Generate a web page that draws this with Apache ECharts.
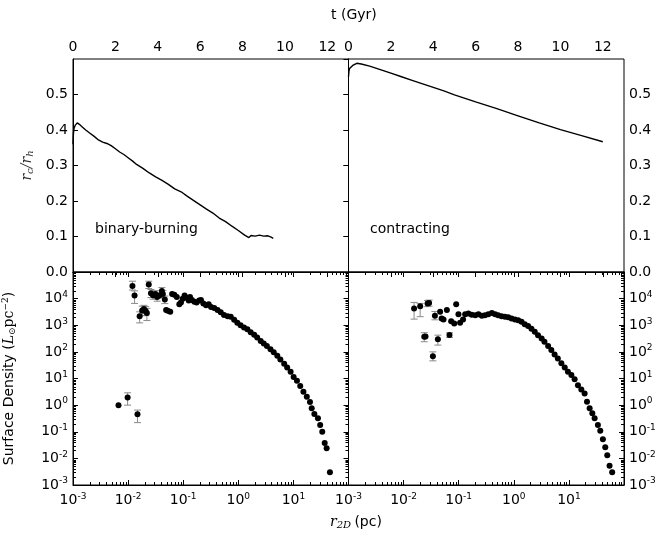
<!DOCTYPE html>
<html>
<head>
<meta charset="utf-8">
<script src="https://cdn.jsdelivr.net/npm/echarts@6/dist/echarts.min.js"></script>
<style>
  html, body { margin: 0; background: #fff; }
  #chart { width: 664px; height: 539px; }
</style>
</head>
<body>
<div id="chart"></div>
<script>
// r_c / r_h against time, binary-burning run
const tBinary = [0.0, 0.02, 0.05, 0.1, 0.2, 0.3, 0.45, 0.6, 0.8, 1.0, 1.2, 1.4, 1.6, 1.8, 2.0, 2.2, 2.4, 2.6, 2.8, 3.0,
  3.3, 3.6, 3.9, 4.2, 4.5, 4.8, 5.1, 5.4, 5.7, 6.0, 6.3, 6.6, 6.9, 7.2, 7.5, 7.8, 8.1, 8.3, 8.4, 8.6, 8.8, 9.0, 9.2, 9.35, 9.45]
const rcBinary = [0.36, 0.39, 0.405, 0.413, 0.42, 0.416, 0.408, 0.400, 0.391, 0.382, 0.372, 0.366, 0.362, 0.356, 0.347, 0.338,
  0.331, 0.322, 0.313, 0.303, 0.292, 0.279, 0.268, 0.258, 0.247, 0.234, 0.226, 0.213, 0.201, 0.189, 0.177, 0.166, 0.152,
  0.142, 0.129, 0.117, 0.104, 0.097, 0.103, 0.101, 0.104, 0.101, 0.102, 0.098, 0.095]

// r_c / r_h against time, contracting run
const tContract = [0.0, 0.02, 0.05, 0.1, 0.2, 0.39, 0.6, 1.0, 1.5, 2.0, 2.5, 3.0, 3.5, 4.0, 4.5, 5.0, 5.5, 6.0, 7.0, 8.0, 9.0, 10.0, 11.0, 12.0]
const rcContract = [0.55, 0.565, 0.573, 0.578, 0.582, 0.588, 0.586, 0.580, 0.570, 0.560, 0.550, 0.540, 0.530, 0.520, 0.510,
  0.499, 0.489, 0.479, 0.460, 0.440, 0.420, 0.401, 0.384, 0.367]

// surface density profile, binary-burning
const rBinary = [0.0067, 0.0098, 0.012, 0.0131, 0.0148, 0.0162, 0.018, 0.0194, 0.0208, 0.0219, 0.0237, 0.026, 0.0284, 0.0314,
  0.0337, 0.037, 0.041, 0.0427, 0.0464, 0.049, 0.0525, 0.0582, 0.0629, 0.069, 0.0765, 0.085, 0.091, 0.098, 0.106, 0.115,
  0.126, 0.133, 0.144, 0.159, 0.175, 0.195, 0.21, 0.232, 0.26, 0.29, 0.32, 0.366, 0.42, 0.48, 0.55, 0.64, 0.73, 0.84, 0.96,
  1.1, 1.27, 1.46, 1.68, 1.94, 2.2, 2.55, 2.9, 3.3, 3.84, 4.4, 5.1, 5.8, 6.8, 7.7, 8.9, 10.1, 11.6, 13.3, 15.2, 17.5, 20,
  21.5, 24, 27.9, 30.6, 33.4, 37, 40.1, 46]
const sdBinary = [1.0, 1.95, 30000, 13000, 0.45, 2200, 3600, 4100, 3400, 2900, 34000, 16000, 13500, 15000, 11500, 13000,
  19500, 15000, 9300, 3700, 3500, 3200, 15000, 14000, 11500, 6100, 7200, 10000, 13000, 10700, 8500, 11500, 8800, 7700,
  7100, 8500, 8800, 6600, 5600, 6100, 4800, 4400, 3700, 3100, 2440, 2200, 2100, 1600, 1250, 1000, 830, 700, 550, 440, 350,
  255, 205, 165, 126, 97, 72, 52, 36, 26, 18, 11.5, 8.2, 5.2, 3.2, 2.05, 1.3, 0.76, 0.46, 0.32, 0.178, 0.1, 0.038, 0.024, 0.003]
const rBinaryErr = [0.0098, 0.0148, 0.012, 0.0131, 0.0162, 0.018, 0.0194, 0.0208, 0.0219, 0.0237, 0.026, 0.0284, 0.0314,
  0.0337, 0.041, 0.0427, 0.0464]
const loBinaryErr = [1.0, 0.22, 21000, 6600, 1230, 2300, 2700, 2300, 1500, 24000, 11000, 9500, 10500, 8000, 14000, 10500, 6500]
const hiBinaryErr = [2.9, 0.65, 45000, 19500, 3200, 5200, 5600, 5000, 4300, 45000, 22000, 18000, 20000, 16000, 26000, 20000, 12500]

// surface density profile, contracting
const rContract = [0.0155, 0.020, 0.0237, 0.025, 0.0272, 0.029, 0.034, 0.037, 0.0419, 0.046, 0.049, 0.053, 0.061, 0.068,
  0.073, 0.083, 0.090, 0.099, 0.106, 0.12, 0.131, 0.15, 0.172, 0.2, 0.228, 0.263, 0.30, 0.345, 0.40, 0.457, 0.52, 0.60,
  0.69, 0.79, 0.91, 1.05, 1.2, 1.38, 1.58, 1.82, 2.09, 2.4, 2.75, 3.2, 3.6, 4.2, 4.8, 5.5, 6.3, 7.3, 8.4, 9.6, 11.1, 12.7,
  14.6, 16.8, 19.3, 21.3, 23.8, 26.6, 29.3, 33.6, 37.1, 41.4, 45.7, 49.7, 54.7, 61]
const sdContract = [4300, 5200, 370, 380, 6600, 6900, 69, 2250, 295, 3200, 1800, 1650, 3700, 430, 1400, 1170, 6200, 2600,
  1230, 1650, 2600, 2750, 2500, 2400, 2600, 2250, 2400, 2600, 2900, 2600, 2400, 2200, 2100, 2000, 1800, 1650, 1550, 1350,
  1100, 930, 740, 570, 425, 316, 240, 165, 117, 80, 56, 37, 26, 18, 13.4, 9.3, 5.6, 3.9, 2.75, 1.34, 0.76, 0.49, 0.32,
  0.18, 0.11, 0.052, 0.026, 0.013, 0.0053, 0.003]
const rContractErr = [0.0155, 0.020, 0.0237, 0.0272, 0.029, 0.034, 0.037, 0.0419, 0.068]
const loContractErr = [1700, 2100, 240, 5000, 5200, 46, 1600, 180, 350]
const hiContractErr = [7200, 6600, 525, 8500, 8800, 100, 3300, 425, 520]

// decades that get 2..9 minor ticks on the log axes
const radiusDecades = [-3, -2, -1, 0, 1]
const densityDecades = [-3, -2, -1, 0, 1, 2, 3, 4]
const minorMantissas = [2, 3, 4, 5, 6, 7, 8, 9]

const font = 'DejaVu Sans'
const ink = '#000'
const errGray = '#8a8a8a'

const zip = (a, b) => a.map((v, i) => [v, b[i]])
const zip3 = (a, b, c) => a.map((v, i) => [v, b[i], c[i]])

const supRich = {
  base: { fontSize: 14, fontFamily: font, color: ink },
  sup: { fontSize: 9, fontFamily: font, color: ink, padding: [0, 0, 8, 0] },
}
const logLabel = (v) => {
  const e = Math.round(Math.log10(v))
  return '{base|10}{sup|' + e + '}'
}

const tickIn = (len) => ({ show: true, inside: true, length: len, lineStyle: { color: ink, width: 1 } })
const noLine = { show: false }

const timeAxis = (grid) => ({
  type: 'value', gridIndex: grid, position: 'top', min: 0, max: 13, interval: 2,
  axisLine: { show: true, lineStyle: { color: ink } },
  axisTick: tickIn(5),
  axisLabel: { color: ink, fontFamily: font, fontSize: 14, margin: 5, showMaxLabel: false },
  splitLine: noLine,
})
const ratioAxis = (grid, pos, labels) => ({
  type: 'value', gridIndex: grid, position: pos, min: 0, max: 0.6, interval: 0.1,
  axisLine: { show: true, lineStyle: { color: ink } },
  axisTick: tickIn(5),
  axisLabel: { show: labels, color: ink, fontFamily: font, fontSize: 14, margin: 5, showMaxLabel: false,
    formatter: (v) => v.toFixed(1) },
  splitLine: noLine,
})
const radiusAxis = (grid, pos, labels) => ({
  type: 'log', logBase: 10, gridIndex: grid, position: pos, min: 0.001, max: 100, splitNumber: 5,
  axisLine: { show: true, lineStyle: { color: ink } },
  axisTick: tickIn(5),
  axisLabel: { show: labels, margin: 7, showMaxLabel: false, formatter: logLabel, rich: supRich },
  splitLine: noLine,
})
const densityAxis = (grid, pos, labels) => ({
  type: 'log', logBase: 10, gridIndex: grid, position: pos, min: 0.001, max: 100000, splitNumber: 8,
  axisLine: { show: true, lineStyle: { color: ink } },
  axisTick: tickIn(5),
  axisLabel: { show: labels, margin: 5, showMaxLabel: false, formatter: logLabel, rich: supRich },
  splitLine: noLine,
})

const errRender = (params, api) => {
  const x = api.value(0)
  const top = api.coord([x, api.value(2)])
  const bot = api.coord([x, api.value(1)])
  const cap = 3.5
  const st = { stroke: errGray, lineWidth: 1 }
  return {
    type: 'group',
    children: [
      { type: 'line', shape: { x1: top[0], y1: top[1], x2: bot[0], y2: bot[1] }, style: st },
      { type: 'line', shape: { x1: top[0] - cap, y1: top[1], x2: top[0] + cap, y2: top[1] }, style: st },
      { type: 'line', shape: { x1: bot[0] - cap, y1: bot[1], x2: bot[0] + cap, y2: bot[1] }, style: st },
    ],
  }
}

// minor log ticks, placed through the axes' own scales
const minorTicks = (leftSide, rightSide) => (params, api) => {
  const cs = params.coordSys
  const len = 3
  const st = { stroke: ink, lineWidth: 1 }
  const kids = []
  radiusDecades.forEach((d) => minorMantissas.forEach((m) => {
    const x = Math.round(api.coord([m * Math.pow(10, d), 1])[0]) + 0.5
    kids.push({ type: 'line', shape: { x1: x, y1: cs.y, x2: x, y2: cs.y + len }, style: st })
    kids.push({ type: 'line', shape: { x1: x, y1: cs.y + cs.height, x2: x, y2: cs.y + cs.height - len }, style: st })
  }))
  densityDecades.forEach((d) => minorMantissas.forEach((m) => {
    const y = Math.round(api.coord([1, m * Math.pow(10, d)])[1]) + 0.5
    if (leftSide) kids.push({ type: 'line', shape: { x1: cs.x, y1: y, x2: cs.x + len, y2: y }, style: st })
    if (rightSide) kids.push({ type: 'line', shape: { x1: cs.x + cs.width, y1: y, x2: cs.x + cs.width - len, y2: y }, style: st })
  }))
  return { type: 'group', children: kids }
}

const gridBox = { show: true, borderColor: ink, borderWidth: 1, backgroundColor: 'transparent' }

const option = {
  animation: false,
  backgroundColor: '#fff',
  grid: [
    { ...gridBox, left: 73, top: 59, width: 275.5, height: 213 },
    { ...gridBox, left: 348.5, top: 59, width: 275.5, height: 213 },
    { ...gridBox, left: 73, top: 272, width: 275.5, height: 213 },
    { ...gridBox, left: 348.5, top: 272, width: 275.5, height: 213 },
  ],
  xAxis: [
    timeAxis(0),
    timeAxis(1),
    radiusAxis(2, 'bottom', true),
    radiusAxis(2, 'top', false),
    radiusAxis(3, 'bottom', true),
    radiusAxis(3, 'top', false),
  ],
  yAxis: [
    {
      ...ratioAxis(0, 'left', true),
      name: '{it|r}{sub|c}{it|/r}{sub|h}',
      nameLocation: 'middle', nameGap: 38, nameRotate: 90,
      nameTextStyle: {
        rich: {
          it: { fontFamily: 'DejaVu Serif', fontStyle: 'italic', fontSize: 14, color: '#333' },
          sub: { fontFamily: 'DejaVu Serif', fontStyle: 'italic', fontSize: 10, color: '#333', padding: [6, 0, 0, 0] },
        },
      },
    },
    ratioAxis(0, 'right', false),
    ratioAxis(1, 'right', true),
    {
      ...densityAxis(2, 'left', true),
      name: '{n|Surface Density (}{it|L}{sub|⊙}{rm|pc}{sup|−2}{n|)}',
      nameLocation: 'middle', nameGap: 55, nameRotate: 90,
      nameTextStyle: {
        rich: {
          n: { fontFamily: font, fontSize: 14, color: ink },
          it: { fontFamily: 'DejaVu Serif', fontStyle: 'italic', fontSize: 14, color: ink },
          rm: { fontFamily: 'DejaVu Serif', fontSize: 14, color: ink },
          sub: { fontFamily: 'DejaVu Serif', fontSize: 9, color: ink, padding: [6, 0, 0, 0] },
          sup: { fontFamily: 'DejaVu Serif', fontSize: 9, color: ink, padding: [0, 0, 8, 0] },
        },
      },
    },
    densityAxis(2, 'right', false),
    densityAxis(3, 'right', true),
  ],
  graphic: [
    { type: 'text', left: 95, top: 222, style: { text: 'binary-burning', fontFamily: font, fontSize: 14, fill: ink } },
    { type: 'text', left: 370, top: 222, style: { text: 'contracting', fontFamily: font, fontSize: 14, fill: ink } },
    { type: 'text', left: 331, top: 8, style: { text: 't (Gyr)', fontFamily: font, fontSize: 14, fill: ink } },
    {
      type: 'text', left: 330, top: 515,
      style: {
        text: '{it|r}{sub|2D} {n|(pc)}',
        rich: {
          it: { fontFamily: 'DejaVu Serif', fontStyle: 'italic', fontSize: 14, fill: ink },
          sub: { fontFamily: 'DejaVu Serif', fontStyle: 'italic', fontSize: 10, fill: ink, padding: [6, 0, 0, 0] },
          n: { fontFamily: font, fontSize: 14, fill: ink },
        },
      },
    },
  ],
  series: [
    {
      type: 'line', xAxisIndex: 0, yAxisIndex: 0, data: zip(tBinary, rcBinary),
      showSymbol: false, lineStyle: { color: ink, width: 1.4 }, itemStyle: { color: ink }, silent: true,
    },
    {
      type: 'line', xAxisIndex: 1, yAxisIndex: 2, data: zip(tContract, rcContract),
      showSymbol: false, lineStyle: { color: ink, width: 1.4 }, itemStyle: { color: ink }, silent: true,
    },
    {
      type: 'custom', xAxisIndex: 2, yAxisIndex: 3, data: [[1, 1]],
      renderItem: minorTicks(true, true), z: 3, silent: true,
    },
    {
      type: 'custom', xAxisIndex: 4, yAxisIndex: 5, data: [[1, 1]],
      renderItem: minorTicks(false, true), z: 3, silent: true,
    },
    {
      type: 'custom', xAxisIndex: 2, yAxisIndex: 3, data: zip3(rBinaryErr, loBinaryErr, hiBinaryErr),
      encode: { x: 0, y: [1, 2] }, renderItem: errRender, z: 1, silent: true,
    },
    {
      type: 'scatter', xAxisIndex: 2, yAxisIndex: 3, data: zip(rBinary, sdBinary),
      symbol: 'circle', symbolSize: 6, itemStyle: { color: ink, opacity: 1 }, z: 2, silent: true,
    },
    {
      type: 'custom', xAxisIndex: 4, yAxisIndex: 5, data: zip3(rContractErr, loContractErr, hiContractErr),
      encode: { x: 0, y: [1, 2] }, renderItem: errRender, z: 1, silent: true,
    },
    {
      type: 'scatter', xAxisIndex: 4, yAxisIndex: 5, data: zip(rContract, sdContract),
      symbol: 'circle', symbolSize: 6, itemStyle: { color: ink, opacity: 1 }, z: 2, silent: true,
    },
  ],
}

const chart = echarts.init(document.getElementById('chart'), null, { renderer: 'canvas' })
chart.setOption(option)
</script>
</body>
</html>
